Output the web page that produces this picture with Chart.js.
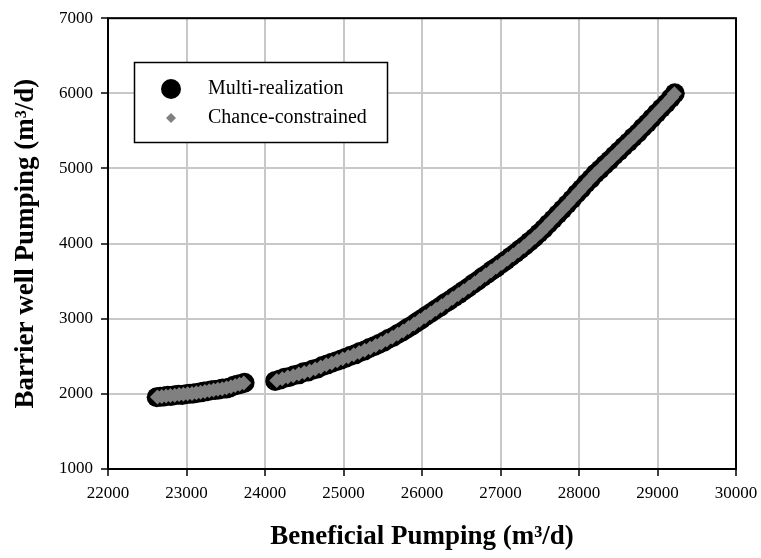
<!DOCTYPE html>
<html>
<head>
<meta charset="utf-8">
<script src="https://cdn.jsdelivr.net/npm/chart.js@4.4.1/dist/chart.umd.min.js"></script>
<style>
  html, body { margin: 0; padding: 0; background: #fff; }
  .wrap { position: relative; width: 761px; height: 558px; }
</style>
</head>
<body>
<div class="wrap"><canvas id="ch-pump"></canvas></div>
<script>
// Trade-off curve: beneficial pumping vs barrier well pumping (m3/d)
const multiX = [
  22620, 22665, 22710, 22760, 22805, 22850, 22900, 22945, 22990, 23040, 23085, 23130, 23180,
  23225, 23270, 23320, 23365, 23410, 23460, 23505, 23550, 23600, 23645, 23690, 23740,
  24130, 24190, 24250, 24310, 24370, 24430, 24490, 24550, 24610, 24670, 24730, 24790, 24850,
  24910, 24970, 25030, 25090, 25150, 25210, 25270, 25330, 25390, 25450, 25510, 25570, 25630,
  25690, 25750, 25810, 25870, 25930, 25990, 26050, 26110, 26170, 26230, 26290, 26350, 26410,
  26470, 26530, 26590, 26650, 26710, 26770, 26830, 26890, 26950, 27010, 27070, 27130, 27190,
  27250, 27310, 27370, 27430, 27490, 27550, 27610, 27670, 27730, 27790, 27850, 27910, 27970,
  28030, 28090, 28150, 28210, 28270, 28330, 28390, 28450, 28510, 28570, 28630, 28690, 28750,
  28810, 28870, 28930, 28990, 29050, 29110, 29170, 29220
];
const multiY = [
  1955, 1962, 1966, 1975, 1972, 1983, 1988, 1985, 1996, 2000, 2006, 2012, 2020,
  2031, 2036, 2048, 2052, 2058, 2072, 2070, 2085, 2108, 2120, 2132, 2148,
  2172, 2190, 2214, 2226, 2248, 2260, 2287, 2298, 2324, 2338, 2370, 2390, 2414,
  2434, 2458, 2482, 2508, 2526, 2558, 2578, 2610, 2634, 2664, 2692, 2730, 2758,
  2797, 2830, 2872, 2908, 2952, 2992, 3036, 3076, 3120, 3158, 3206, 3243, 3288,
  3328, 3374, 3416, 3464, 3506, 3554, 3596, 3644, 3684, 3732, 3776, 3826, 3872,
  3924, 3972, 4026, 4078, 4138, 4196, 4262, 4324, 4392, 4456, 4524, 4590, 4664,
  4728, 4800, 4862, 4932, 4988, 5052, 5108, 5172, 5230, 5292, 5350, 5414, 5472,
  5542, 5602, 5670, 5736, 5802, 5864, 5936, 6000
];
const chanceX = [
  22630, 22685, 22740, 22795, 22850, 22905, 22960, 23015, 23070, 23125, 23180, 23235, 23290,
  23345, 23400, 23455, 23510, 23565, 23620, 23675, 23730,
  24150, 24220, 24290, 24360, 24430, 24500, 24570, 24640, 24710, 24780, 24850, 24920, 24990,
  25060, 25130, 25200, 25270, 25340, 25410, 25480, 25550, 25620, 25690, 25760, 25830, 25900,
  25970, 26040, 26110, 26180, 26250, 26320, 26390, 26460, 26530, 26600, 26670, 26740, 26810,
  26880, 26950, 27020, 27090, 27160, 27230, 27300, 27370, 27440, 27510, 27580, 27650, 27720,
  27790, 27860, 27930, 28000, 28070, 28140, 28210, 28280, 28350, 28420, 28490, 28560, 28630,
  28700, 28770, 28840, 28910, 28980, 29050, 29120, 29180, 29215
];
const chanceY = [
  1958, 1966, 1970, 1978, 1980, 1990, 1994, 2002, 2004, 2015, 2022, 2030, 2042,
  2050, 2062, 2068, 2080, 2094, 2112, 2128, 2146,
  2178, 2200, 2224, 2240, 2264, 2285, 2306, 2332, 2356, 2388, 2410, 2440, 2466,
  2494, 2520, 2552, 2582, 2612, 2644, 2676, 2716, 2754, 2796, 2838, 2884, 2930,
  2980, 3028, 3076, 3126, 3174, 3224, 3272, 3322, 3374, 3424, 3476, 3530, 3582,
  3634, 3688, 3740, 3794, 3848, 3904, 3962, 4024, 4088, 4156, 4228, 4304, 4380,
  4456, 4534, 4612, 4692, 4774, 4852, 4930, 5000, 5070, 5140, 5210, 5282, 5352,
  5422, 5496, 5570, 5646, 5724, 5800, 5878, 5944, 5996
];
const xTicks = [22000, 23000, 24000, 25000, 26000, 27000, 28000, 29000, 30000];
const yTicks = [1000, 2000, 3000, 4000, 5000, 6000, 7000];
const seriesNames = ['Multi-realization', 'Chance-constrained'];

const pts = (xs, ys) => xs.map((x, i) => ({ x: x, y: ys[i] }));
const SERIF = '"Liberation Serif", "Times New Roman", serif';

// plot frame + legend box inside the plot area
const framePlugin = {
  id: 'frame',
  afterDraw(chart) {
    const { ctx, chartArea: a } = chart;
    ctx.save();
    ctx.strokeStyle = '#000';
    ctx.lineWidth = 2;
    ctx.strokeRect(a.left, a.top, a.right - a.left, a.bottom - a.top);

    const bx = 134.5, by = 62.5, bw = 253, bh = 80;
    ctx.fillStyle = '#fff';
    ctx.fillRect(bx, by, bw, bh);
    ctx.lineWidth = 1.5;
    ctx.strokeRect(bx, by, bw, bh);

    ctx.fillStyle = '#000';
    ctx.beginPath();
    ctx.arc(171, 89, 10, 0, Math.PI * 2);
    ctx.fill();

    ctx.fillStyle = '#808080';
    ctx.beginPath();
    ctx.moveTo(171, 113); ctx.lineTo(176, 118); ctx.lineTo(171, 123); ctx.lineTo(166, 118);
    ctx.closePath();
    ctx.fill();

    ctx.fillStyle = '#000';
    ctx.font = '20px ' + SERIF;
    ctx.textBaseline = 'middle';
    ctx.textAlign = 'left';
    ctx.fillText(seriesNames[0], 208, 89);
    ctx.fillText(seriesNames[1], 208, 118);
    ctx.restore();
  }
};

new Chart(document.getElementById('ch-pump').getContext('2d'), {
  type: 'scatter',
  data: {
    datasets: [
      { label: seriesNames[0], data: pts(multiX, multiY), order: 1,
        pointStyle: 'circle', pointRadius: 10, pointBackgroundColor: '#000', pointBorderWidth: 0 },
      { label: seriesNames[1], data: pts(chanceX, chanceY), order: 0,
        pointStyle: 'rectRot', pointRadius: 7.5, pointBackgroundColor: '#808080', pointBorderWidth: 0 }
    ]
  },
  options: {
    responsive: true, maintainAspectRatio: false, animation: false,
    layout: { padding: { left: 10, right: 25, top: 17, bottom: 5 } },
    plugins: { legend: { display: false }, tooltip: { enabled: false } },
    scales: {
      x: {
        min: 22000, max: 30000,
        afterFit: s => { s.height = 84; s.paddingRight = 0; s.paddingLeft = 0; },
        afterBuildTicks: s => { s.ticks = xTicks.map(v => ({ value: v })); },
        grid: { color: '#c8c8c8', lineWidth: 2, tickColor: '#000', tickLength: 7, tickWidth: 1.5 },
        border: { display: false },
        ticks: { color: '#000', padding: 7, font: { family: SERIF, size: 17 }, callback: v => String(v) },
        title: { display: true, text: 'Beneficial Pumping (m³/d)', color: '#000', padding: 0,
                 font: { family: SERIF, size: 27, weight: 'bold' } }
      },
      y: {
        min: 1000, max: 7000,
        afterFit: s => { s.width = 98; },
        afterBuildTicks: s => { s.ticks = yTicks.map(v => ({ value: v })); },
        grid: { color: '#c8c8c8', lineWidth: 2, tickColor: '#000', tickLength: 7, tickWidth: 1.5 },
        border: { display: false },
        ticks: { color: '#000', padding: 8, font: { family: SERIF, size: 17 }, callback: v => String(v) },
        title: { display: true, text: 'Barrier well Pumping (m³/d)', color: '#000', padding: 0,
                 font: { family: SERIF, size: 27, weight: 'bold' } }
      }
    }
  },
  plugins: [framePlugin]
});
</script>
</body>
</html>
